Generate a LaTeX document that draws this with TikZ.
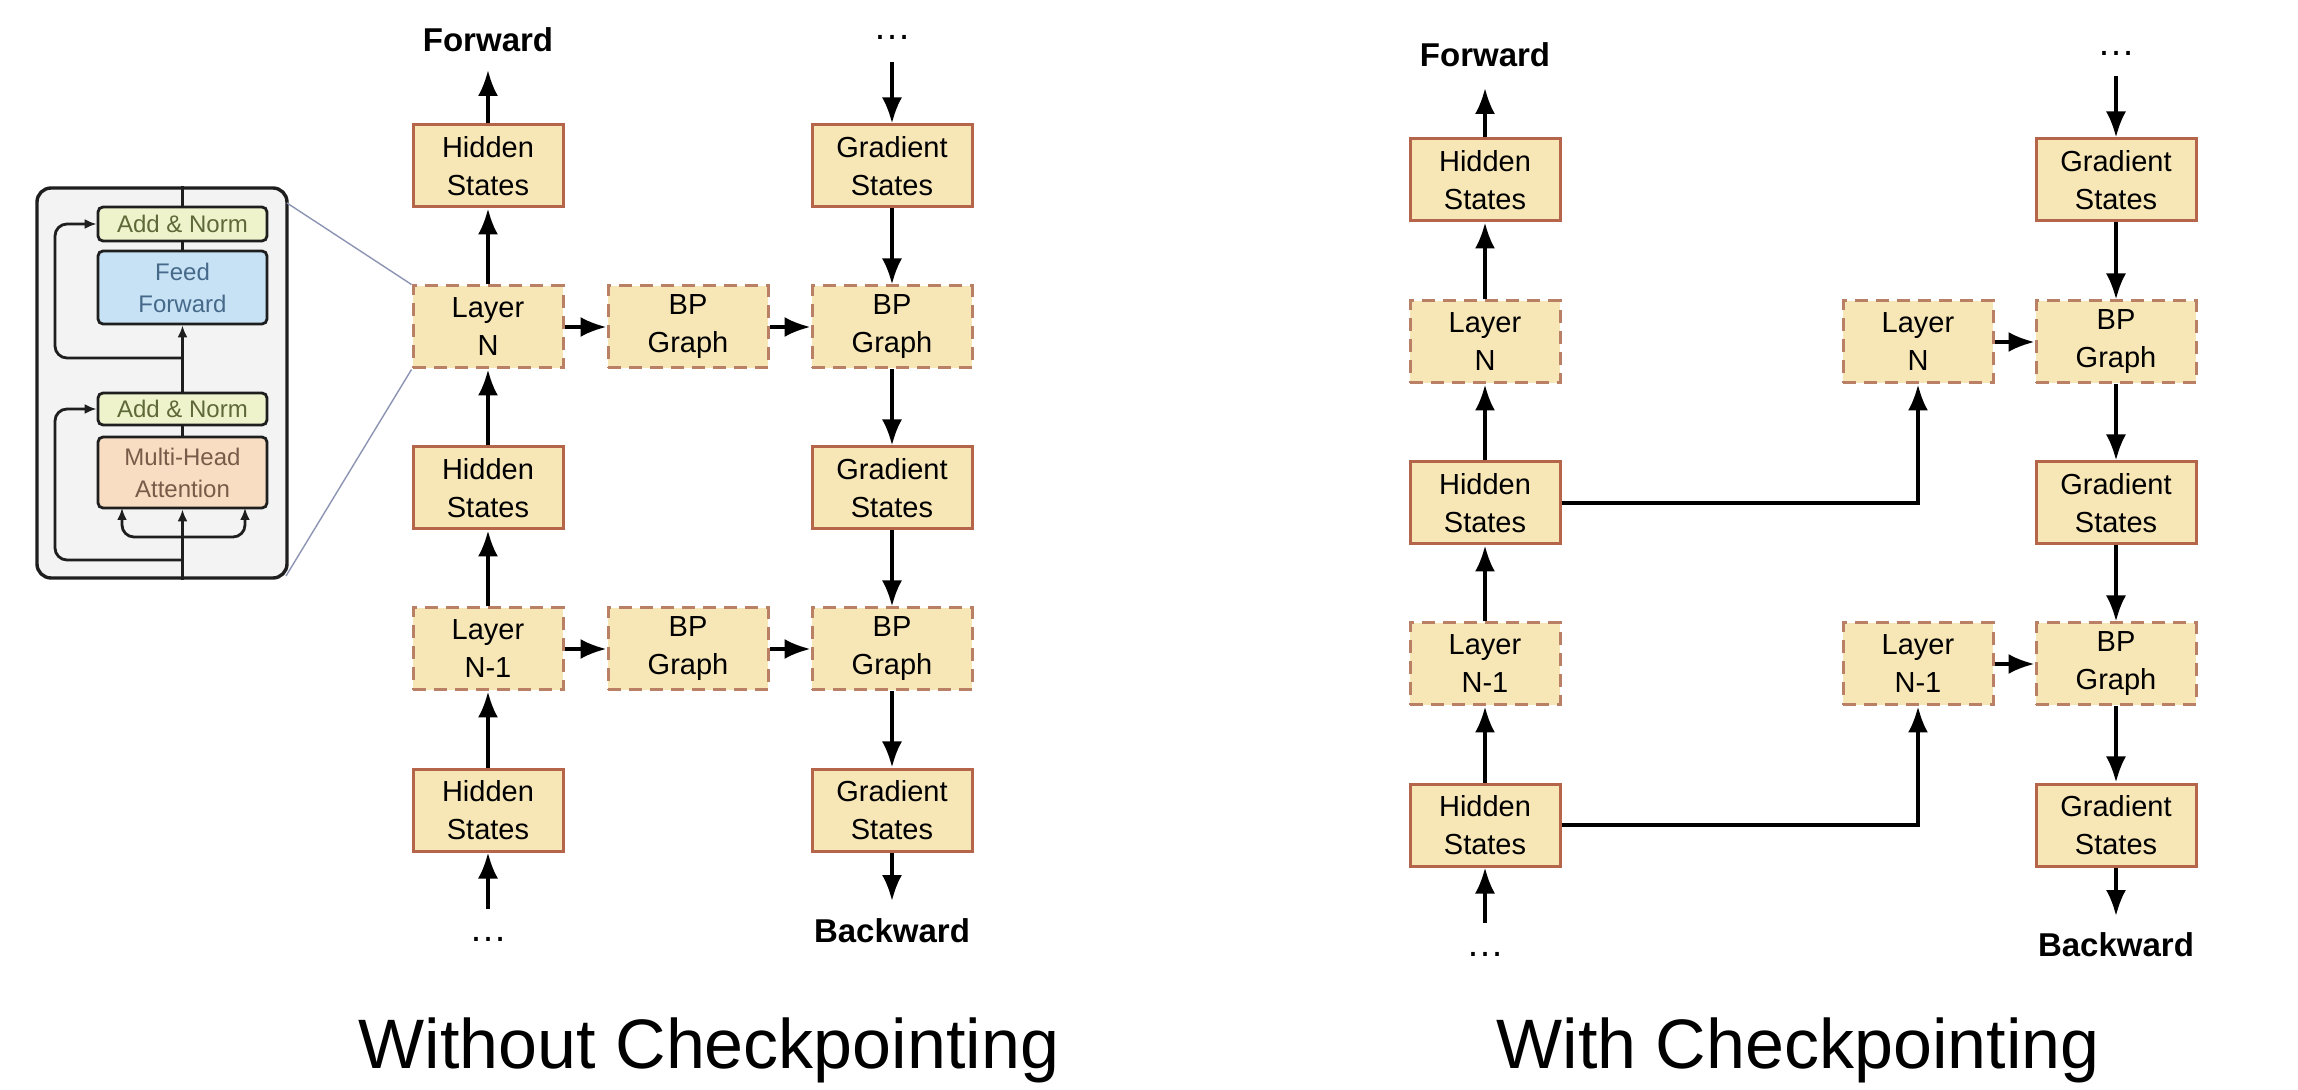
\documentclass[tikz,border=0pt]{standalone}
\usepackage{fontspec}
\setmainfont{Liberation Sans}
\usetikzlibrary{arrows.meta,calc}
\definecolor{boxfill}{HTML}{F7E6B6}
\definecolor{boxedge}{HTML}{B5654A}
\definecolor{dashedge}{HTML}{B98065}
\definecolor{insetbg}{HTML}{F3F3F3}
\definecolor{anfill}{HTML}{EFF3CC}
\definecolor{antext}{HTML}{5E6838}
\definecolor{fffill}{HTML}{C7E2F5}
\definecolor{fftext}{HTML}{46698A}
\definecolor{mhafill}{HTML}{F8DDC2}
\definecolor{mhatext}{HTML}{7A5A48}
\definecolor{zoomblue}{HTML}{8C94B4}
\definecolor{darkline}{HTML}{1E1E1E}
\newcommand\boxfont{\fontsize{14.5}{19}\selectfont}
\newcommand\lblfont{\fontsize{16.5}{19}\selectfont\bfseries}
\newcommand\titlefont{\fontsize{35}{40}\selectfont}
\newcommand\insetfont{\fontsize{12}{16}\selectfont}
\begin{document}
\begin{tikzpicture}[x=0.5pt,y=-0.5pt,
  arr/.style={-{Latex[length=13pt,width=10pt]},line width=1.8pt,draw=black},
  sarr/.style={-{Latex[length=6pt,width=5pt]},line width=1.4pt,draw=darkline},
  sline/.style={line width=1.4pt,draw=darkline},
  sbox/.style={draw=boxedge,fill=boxfill,line width=1.5pt,minimum height=41pt,inner sep=0pt,align=center,font=\boxfont},
  narrowbox/.style={sbox,minimum width=75pt},
  widebox/.style={sbox,minimum width=80pt},
  dashbox/.style={draw=dashedge,dash pattern=on 6.5pt off 4pt},
  lbl/.style={font=\lblfont,anchor=base,inner sep=0pt},
  dotlbl/.style={font=\fontsize{19}{19}\selectfont,anchor=base,inner sep=0pt},
  ttl/.style={font=\titlefont,anchor=base,inner sep=0pt},
  ibox/.style={draw=darkline,line width=1.4pt,rounded corners=2.5pt,minimum width=84.5pt,inner sep=0pt,align=center,font=\insetfont},
  zoomline/.style={draw=zoomblue,line width=0.7pt}]
\useasboundingbox (0,0) rectangle (2298,1090);
\fill[white] (0,0) rectangle (2298,1090);

% ---------------- inset (transformer layer) ----------------
\node[draw=darkline,fill=insetbg,line width=1.7pt,rounded corners=7pt,minimum width=125pt,minimum height=195pt,inner sep=0pt] (inset) at (162,383) {};
\node[ibox,fill=anfill,text=antext,minimum height=17pt] (an1) at (182.5,224) {Add \& Norm};
\node[ibox,fill=fffill,text=fftext,minimum height=36.5pt] (ff) at (182.5,287.5) {Feed\\Forward};
\node[ibox,fill=anfill,text=antext,minimum height=16pt] (an2) at (182.5,409) {Add \& Norm};
\node[ibox,fill=mhafill,text=mhatext,minimum height=35.5pt] (mha) at (182.5,472.5) {Multi-Head\\Attention};
\draw[sline] (an1.north |- inset.north) -- (an1.north);
\draw[sline] (an1.south) -- (ff.north);
\draw[sarr] (an2.north) -- (ff.south);
\draw[sline] (an2.south) -- (mha.north);
\draw[sarr] (mha.south |- inset.south) -- (mha.south);
\coordinate (res1) at (182.5,358);
\coordinate (res2) at (182.5,560);
\coordinate (fork) at (182.5,537);
\draw[sarr,rounded corners=6pt] (res1) -- (55,358) -- (55,224) -- (an1.west);
\draw[sarr,rounded corners=6pt] (res2) -- (55,560) -- (55,409) -- (an2.west);
\draw[sarr,rounded corners=6pt] (fork) -- (122,537) -- (122,508);
\draw[sarr,rounded corners=6pt] (fork) -- (245,537) -- (245,508);

% ---------------- Without Checkpointing ----------------
\node[narrowbox] (hsA) at (488,166) {Hidden\\States};
\node[narrowbox,dashbox] (lyN) at (488,327) {Layer\\N};
\node[narrowbox] (hsB) at (488,488) {Hidden\\States};
\node[narrowbox,dashbox] (lyM) at (488,649) {Layer\\N-1};
\node[narrowbox] (hsC) at (488,810) {Hidden\\States};
\node[widebox,dashbox] (bpA) at (688,327) {BP\\Graph};
\node[widebox,dashbox] (bpB) at (688,649) {BP\\Graph};
\node[widebox] (gsA) at (892,166) {Gradient\\States};
\node[widebox,dashbox] (bgA) at (892,327) {BP\\Graph};
\node[widebox] (gsB) at (892,488) {Gradient\\States};
\node[widebox,dashbox] (bgB) at (892,649) {BP\\Graph};
\node[widebox] (gsC) at (892,810) {Gradient\\States};

\node[lbl] (fwdL) at (488,52) {Forward};
\node[dotlbl] (dotTL) at (892,40) {\ldots};
\node[dotlbl] (dotBL) at (488,941) {\ldots};
\node[lbl] (bwdL) at (892,942) {Backward};
\coordinate (fwdLtip) at (488,70);
\coordinate (dotTLs) at (892,62);
\coordinate (dotBLs) at (488,909);
\coordinate (bwdLtip) at (892,901);

\draw[zoomline] (287,203) -- (lyN.north west);
\draw[zoomline] (286,576) -- (lyN.south west);

\draw[arr] (hsA.north) -- (fwdLtip);
\draw[arr] (lyN) -- (hsA);
\draw[arr] (hsB) -- (lyN);
\draw[arr] (lyM) -- (hsB);
\draw[arr] (hsC) -- (lyM);
\draw[arr] (dotBLs) -- (hsC.south);
\draw[arr] (lyN) -- (bpA);
\draw[arr] (bpA) -- (bgA);
\draw[arr] (lyM) -- (bpB);
\draw[arr] (bpB) -- (bgB);
\draw[arr] (dotTLs) -- (gsA.north);
\draw[arr] (gsA) -- (bgA);
\draw[arr] (bgA) -- (gsB);
\draw[arr] (gsB) -- (bgB);
\draw[arr] (bgB) -- (gsC);
\draw[arr] (gsC.south) -- (bwdLtip);

\node[ttl] (ttlL) at (709,1068) {Without Checkpointing};

% ---------------- With Checkpointing ----------------
\node[narrowbox] (rhsA) at (1485,180) {Hidden\\States};
\node[narrowbox,dashbox] (rlyN) at (1485,342) {Layer\\N};
\node[narrowbox] (rhsB) at (1485,503) {Hidden\\States};
\node[narrowbox,dashbox] (rlyM) at (1485,664) {Layer\\N-1};
\node[narrowbox] (rhsC) at (1485,825) {Hidden\\States};
\node[narrowbox,dashbox] (rcN) at (1918,342) {Layer\\N};
\node[narrowbox,dashbox] (rcM) at (1918,664) {Layer\\N-1};
\node[widebox] (rgsA) at (2116,180) {Gradient\\States};
\node[widebox,dashbox] (rbgA) at (2116,342) {BP\\Graph};
\node[widebox] (rgsB) at (2116,503) {Gradient\\States};
\node[widebox,dashbox] (rbgB) at (2116,664) {BP\\Graph};
\node[widebox] (rgsC) at (2116,825) {Gradient\\States};

\node[lbl] (fwdR) at (1485,67) {Forward};
\node[dotlbl] (dotTR) at (2116,56) {\ldots};
\node[dotlbl] (dotBR) at (1485,956) {\ldots};
\node[lbl] (bwdR) at (2116,956) {Backward};
\coordinate (fwdRtip) at (1485,88);
\coordinate (dotTRs) at (2116,76);
\coordinate (dotBRs) at (1485,923);
\coordinate (bwdRtip) at (2116,916);

\draw[arr] (rhsA.north) -- (fwdRtip);
\draw[arr] (rlyN) -- (rhsA);
\draw[arr] (rhsB) -- (rlyN);
\draw[arr] (rlyM) -- (rhsB);
\draw[arr] (rhsC) -- (rlyM);
\draw[arr] (dotBRs) -- (rhsC.south);
\draw[arr] (rhsB.east) -| (rcN.south);
\draw[arr] (rhsC.east) -| (rcM.south);
\draw[arr] (rcN) -- (rbgA);
\draw[arr] (rcM) -- (rbgB);
\draw[arr] (dotTRs) -- (rgsA.north);
\draw[arr] (rgsA) -- (rbgA);
\draw[arr] (rbgA) -- (rgsB);
\draw[arr] (rgsB) -- (rbgB);
\draw[arr] (rbgB) -- (rgsC);
\draw[arr] (rgsC.south) -- (bwdRtip);

\node[ttl] (ttlR) at (1798,1068) {With Checkpointing};
\end{tikzpicture}
\end{document}
